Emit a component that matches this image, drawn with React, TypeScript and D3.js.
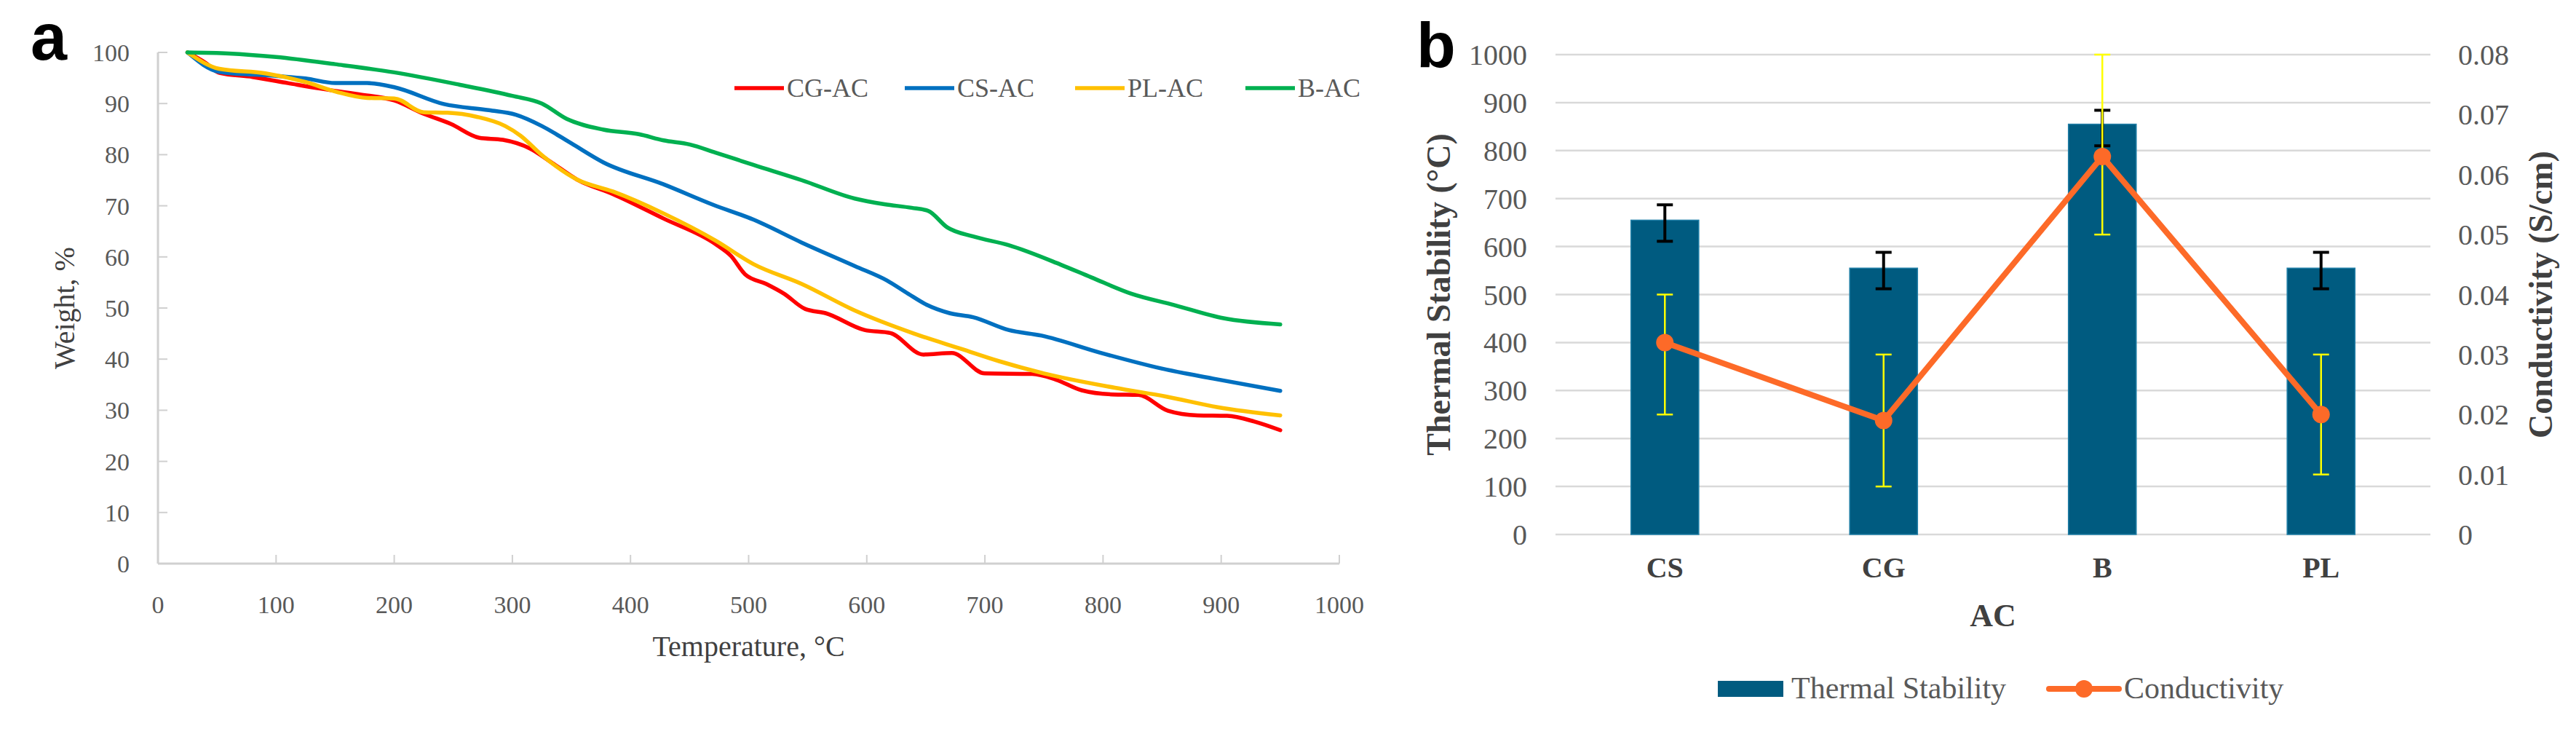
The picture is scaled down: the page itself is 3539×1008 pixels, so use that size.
import React, { useEffect, useRef } from "react";
import * as d3 from "d3";

// Panel a: TGA curves, [temperature °C, weight %]
const cgAc: [number, number][] = [
  [25, 100], [40, 98], [52, 96], [80, 95.2], [110, 94], [135, 93], [170, 91.8],
  [200, 90.6], [225, 88], [248, 86], [272, 83.3], [292, 82.9], [315, 81.2],
  [333, 78.5], [355, 75.1], [385, 72.3], [428, 67.5], [472, 62.5], [485, 60.2],
  [497, 56.6], [515, 54.7], [530, 52.8], [548, 49.8], [565, 49], [598, 45.7],
  [620, 45.1], [648, 40.9], [672, 41.2], [700, 37.2], [740, 37.1], [760, 36],
  [782, 33.9], [808, 33.1], [830, 33], [855, 29.9], [880, 29], [905, 28.9],
  [928, 27.8], [950, 26.1],
];

const csAc: [number, number][] = [
  [25, 100], [52, 96.2], [100, 95.4], [125, 94.9], [150, 94], [177, 94],
  [200, 93.2], [242, 89.9], [280, 88.7], [303, 87.8], [325, 85.6], [350, 82.2],
  [377, 78.5], [428, 74.2], [470, 70.2], [504, 67.3], [545, 62.8], [590, 58.2],
  [617, 55.4], [635, 52.8], [651, 50.6], [670, 49], [690, 48.2], [720, 45.7],
  [748, 44.6], [797, 41.3], [849, 38.2], [893, 36.2], [950, 33.8],
];

const plAc: [number, number][] = [
  [25, 100], [52, 96.8], [91, 95.9], [125, 94.2], [151, 92.3], [177, 91.1],
  [200, 91], [225, 88.3], [245, 88.2], [270, 87.4], [294, 85.6], [307, 83.7],
  [325, 79.9], [355, 75.1], [385, 72.8], [428, 68.5], [472, 63.2], [504, 58.6],
  [545, 54.7], [590, 49.5], [640, 45], [680, 42], [712, 39.6], [750, 37.2],
  [810, 34.4], [853, 32.7], [897, 30.6], [950, 29],
];

const bAc: [number, number][] = [
  [25, 100], [60, 99.8], [100, 99.1], [150, 97.7], [200, 96.1], [255, 93.7],
  [300, 91.5], [325, 90], [346, 87], [377, 84.9], [407, 84], [428, 82.8],
  [450, 82], [472, 80.4], [504, 78], [545, 75], [590, 71.4], [615, 70.3],
  [638, 69.6], [652, 69], [668, 65.8], [690, 64], [720, 62.3], [764, 58.5],
  [790, 56], [824, 52.8], [860, 50.6], [902, 48], [950, 46.8],
];

const seriesNames = ["CG-AC", "CS-AC", "PL-AC", "B-AC"];
const seriesColors = ["#ff0000", "#0070c0", "#ffc000", "#00b050"];
const seriesData = [cgAc, csAc, plAc, bAc];

// Panel b: thermal stability (bars) and conductivity (line)
const categories = ["CS", "CG", "B", "PL"];
const thermalStability = [655, 555, 855, 555];
const thermalLow = [611, 512, 810, 512];
const thermalHigh = [687, 588, 884, 588];
const conductivity = [0.032, 0.019, 0.063, 0.02];
const conductivityLow = [0.02, 0.008, 0.05, 0.01];
const conductivityHigh = [0.04, 0.03, 0.08, 0.03];

const SERIF = "'Liberation Serif', 'Times New Roman', serif";
const BAR_COLOR = "#005b80";
const LINE_COLOR = "#fd6a28";

export default function App() {
  const ref = useRef<SVGSVGElement | null>(null);

  useEffect(() => {
    const width = 3539;
    const height = 1008;
    const svg = d3.select(ref.current);
    svg.selectAll("*").remove();
    svg.attr("width", width).attr("height", height);

    svg.append("rect").attr("width", width).attr("height", height).attr("fill", "#fff");

    // ---------- panel a ----------
    const xA = d3.scaleLinear().domain([0, 1000]).range([217, 1840]);
    const yA = d3.scaleLinear().domain([0, 100]).range([774, 72]);
    const gA = svg.append("g");

    // axis lines
    gA.append("line")
      .attr("x1", xA(0)).attr("x2", xA(0))
      .attr("y1", yA(0)).attr("y2", yA(100))
      .attr("stroke", "#d0d0d0").attr("stroke-width", 3);
    gA.append("line")
      .attr("x1", xA(0)).attr("x2", xA(1000))
      .attr("y1", yA(0)).attr("y2", yA(0))
      .attr("stroke", "#d0d0d0").attr("stroke-width", 3);

    yA.ticks(10).forEach((t) => {
      gA.append("line")
        .attr("x1", xA(0)).attr("x2", xA(0) + 13)
        .attr("y1", yA(t)).attr("y2", yA(t))
        .attr("stroke", "#d0d0d0").attr("stroke-width", 2);
      gA.append("text")
        .attr("x", 178).attr("y", yA(t)).attr("dy", "0.35em")
        .attr("text-anchor", "end")
        .style("font-family", SERIF).style("font-size", "34px")
        .attr("fill", "#595959")
        .text(t);
    });

    xA.ticks(10).forEach((t) => {
      gA.append("line")
        .attr("x1", xA(t)).attr("x2", xA(t))
        .attr("y1", yA(0)).attr("y2", yA(0) - 12)
        .attr("stroke", "#d0d0d0").attr("stroke-width", 2);
      gA.append("text")
        .attr("x", xA(t)).attr("y", yA(0) + 68)
        .attr("text-anchor", "middle")
        .style("font-family", SERIF).style("font-size", "34px")
        .attr("fill", "#595959")
        .text(t);
    });

    gA.append("text")
      .attr("x", xA(500)).attr("y", 901)
      .attr("text-anchor", "middle")
      .style("font-family", SERIF).style("font-size", "40px")
      .attr("fill", "#404040")
      .text("Temperature, °C");

    gA.append("text")
      .attr("transform", `translate(102,${yA(50)}) rotate(-90)`)
      .attr("text-anchor", "middle")
      .style("font-family", SERIF).style("font-size", "40px")
      .attr("fill", "#404040")
      .text("Weight, %");

    const lineA = d3
      .line<[number, number]>()
      .x((d) => xA(d[0]))
      .y((d) => yA(d[1]))
      .curve(d3.curveMonotoneX);

    seriesData.forEach((s, i) => {
      gA.append("path")
        .datum(s)
        .attr("d", lineA)
        .attr("fill", "none")
        .attr("stroke", seriesColors[i])
        .attr("stroke-width", 5.5)
        .attr("stroke-linejoin", "round")
        .attr("stroke-linecap", "round");
    });

    // legend a
    seriesNames.forEach((name, i) => {
      const lx = 1009 + i * 234;
      gA.append("line")
        .attr("x1", lx).attr("x2", lx + 68)
        .attr("y1", 121).attr("y2", 121)
        .attr("stroke", seriesColors[i]).attr("stroke-width", 5.5);
      gA.append("text")
        .attr("x", lx + 72).attr("y", 133)
        .style("font-family", SERIF).style("font-size", "36px")
        .attr("fill", "#595959")
        .text(name);
    });

    svg.append("text")
      .attr("x", 42).attr("y", 82)
      .style("font-family", "'Liberation Sans Narrow', 'Liberation Sans', Arial, sans-serif")
      .style("font-size", "90px").style("font-weight", "bold")
      .attr("fill", "#000")
      .text("a");

    // ---------- panel b ----------
    const xB = d3
      .scaleBand()
      .domain(categories)
      .range([2137, 3339])
      .paddingInner(0.69)
      .paddingOuter(0.345);
    const yL = d3.scaleLinear().domain([0, 1000]).range([734, 75]);
    const yR = d3.scaleLinear().domain([0, 0.08]).range([734, 75]);
    const gB = svg.append("g");
    const cx = (c: string) => (xB(c) ?? 0) + xB.bandwidth() / 2;

    yL.ticks(10).forEach((t) => {
      gB.append("line")
        .attr("x1", 2137).attr("x2", 3339)
        .attr("y1", yL(t)).attr("y2", yL(t))
        .attr("stroke", "#d9d9d9").attr("stroke-width", 2.5);
      gB.append("text")
        .attr("x", 2098).attr("y", yL(t)).attr("dy", "0.35em")
        .attr("text-anchor", "end")
        .style("font-family", SERIF).style("font-size", "40px")
        .attr("fill", "#595959")
        .text(t);
    });

    yR.ticks(8).forEach((t) => {
      gB.append("text")
        .attr("x", 3377).attr("y", yR(t)).attr("dy", "0.35em")
        .attr("text-anchor", "start")
        .style("font-family", SERIF).style("font-size", "40px")
        .attr("fill", "#595959")
        .text(t === 0 ? "0" : d3.format(".2f")(t));
    });

    // bars
    gB.selectAll(".bar")
      .data(categories)
      .enter()
      .append("rect")
      .attr("class", "bar")
      .attr("x", (c) => xB(c) ?? 0)
      .attr("y", (_, i) => yL(thermalStability[i]))
      .attr("width", xB.bandwidth())
      .attr("height", (_, i) => yL(0) - yL(thermalStability[i]))
      .attr("fill", BAR_COLOR)
      .attr("stroke", "#1f7ea6")
      .attr("stroke-width", 1.5);

    // error bars
    const errorBar = (
      x: number, y1: number, y2: number, color: string, w: number,
    ) => {
      gB.append("line")
        .attr("x1", x).attr("x2", x).attr("y1", y1).attr("y2", y2)
        .attr("stroke", color).attr("stroke-width", w);
      [y1, y2].forEach((y) => {
        gB.append("line")
          .attr("x1", x - 11).attr("x2", x + 11).attr("y1", y).attr("y2", y)
          .attr("stroke", color).attr("stroke-width", w);
      });
    };

    categories.forEach((c, i) => {
      errorBar(cx(c), yL(thermalLow[i]), yL(thermalHigh[i]), "#000", 4);
    });
    categories.forEach((c, i) => {
      errorBar(cx(c), yR(conductivityLow[i]), yR(conductivityHigh[i]), "#ffff00", 2.5);
    });

    // conductivity line
    const lineB = d3
      .line<number>()
      .x((_, i) => cx(categories[i]))
      .y((d) => yR(d));
    gB.append("path")
      .datum(conductivity)
      .attr("d", lineB)
      .attr("fill", "none")
      .attr("stroke", LINE_COLOR)
      .attr("stroke-width", 8)
      .attr("stroke-linejoin", "round")
      .attr("stroke-linecap", "round");
    gB.selectAll(".marker")
      .data(conductivity)
      .enter()
      .append("circle")
      .attr("class", "marker")
      .attr("cx", (_, i) => cx(categories[i]))
      .attr("cy", (d) => yR(d))
      .attr("r", 12)
      .attr("fill", LINE_COLOR);

    // category labels
    categories.forEach((c) => {
      gB.append("text")
        .attr("x", cx(c)).attr("y", 793)
        .attr("text-anchor", "middle")
        .style("font-family", SERIF).style("font-size", "40px").style("font-weight", "bold")
        .attr("fill", "#404040")
        .text(c);
    });

    gB.append("text")
      .attr("x", 2738).attr("y", 860)
      .attr("text-anchor", "middle")
      .style("font-family", SERIF).style("font-size", "44px").style("font-weight", "bold")
      .attr("fill", "#404040")
      .text("AC");

    gB.append("text")
      .attr("transform", `translate(1992,${(yL(0) + yL(1000)) / 2}) rotate(-90)`)
      .attr("text-anchor", "middle")
      .style("font-family", SERIF).style("font-size", "46px").style("font-weight", "bold")
      .attr("fill", "#404040")
      .text("Thermal Stability (°C)");

    gB.append("text")
      .attr("transform", `translate(3506,${(yR(0) + yR(0.08)) / 2}) rotate(-90)`)
      .attr("text-anchor", "middle")
      .style("font-family", SERIF).style("font-size", "46px").style("font-weight", "bold")
      .attr("fill", "#404040")
      .text("Conductivity (S/cm)");

    // legend b
    gB.append("rect")
      .attr("x", 2360).attr("y", 935).attr("width", 90).attr("height", 22)
      .attr("fill", BAR_COLOR);
    gB.append("text")
      .attr("x", 2461).attr("y", 959)
      .style("font-family", SERIF).style("font-size", "42px")
      .attr("fill", "#595959")
      .text("Thermal Stability");
    gB.append("line")
      .attr("x1", 2815).attr("x2", 2911).attr("y1", 946).attr("y2", 946)
      .attr("stroke", LINE_COLOR).attr("stroke-width", 8)
      .attr("stroke-linecap", "round");
    gB.append("circle")
      .attr("cx", 2863).attr("cy", 946).attr("r", 12)
      .attr("fill", LINE_COLOR);
    gB.append("text")
      .attr("x", 2918).attr("y", 959)
      .style("font-family", SERIF).style("font-size", "42px")
      .attr("fill", "#595959")
      .text("Conductivity");

    svg.append("text")
      .attr("x", 1946).attr("y", 92)
      .style("font-family", "'Liberation Sans Narrow', 'Liberation Sans', Arial, sans-serif")
      .style("font-size", "88px").style("font-weight", "bold")
      .attr("fill", "#000")
      .text("b");
  }, []);

  return (
    <svg
      ref={ref}
      style={{ position: "absolute", left: 0, top: 0, display: "block" }}
    ></svg>
  );
}
